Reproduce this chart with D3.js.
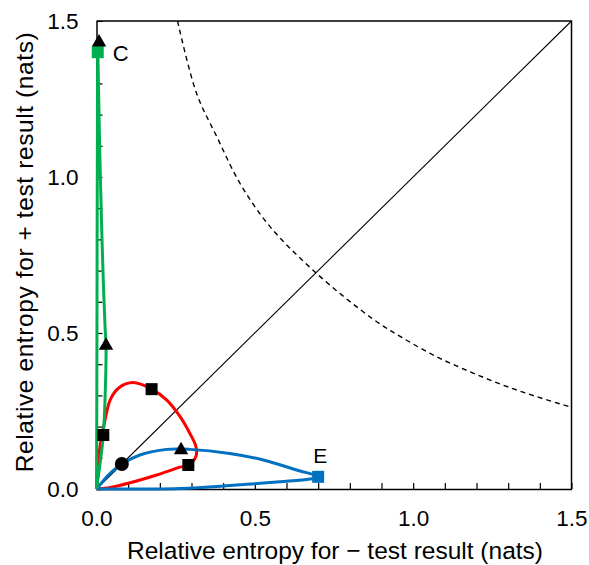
<!DOCTYPE html>
<html>
<head>
<meta charset="utf-8">
<script src="https://cdn.jsdelivr.net/npm/d3@7/dist/d3.min.js"></script>
<style>
  html, body { margin: 0; padding: 0; background: #fff; }
  svg { display: block; font-family: Arial, "Liberation Sans", sans-serif; }
</style>
</head>
<body>
<svg id="chart" width="589" height="565"></svg>
<script>
// Relative entropy (nats) of negative (x) vs positive (y) test results.

// Loop C (green): up the axis to C, back down through the outer branch
const loopCx = [0, 0.001, 0.002, 0.003, 0.004, 0.007, 0.011, 0.016, 0.022, 0.027, 0.030, 0.029, 0.0215, 0.011, 0];
const loopCy = [0, 0.30, 0.80, 1.20, 1.40, 1.25, 1.05, 0.85, 0.65, 0.52, 0.46, 0.36, 0.173, 0.08, 0];

// Red loop
const loopRx = [0, 0.004, 0.011, 0.027, 0.043, 0.069, 0.116, 0.174, 0.222, 0.264, 0.295, 0.314, 0.314, 0.29, 0.264, 0.19, 0.106, 0.043, 0];
const loopRy = [0, 0.06, 0.136, 0.221, 0.285, 0.323, 0.341, 0.32, 0.285, 0.232, 0.178, 0.136, 0.104, 0.077, 0.07, 0.045, 0.02, 0.005, 0];

// Loop E (blue): out along the bottom to E, back through the upper branch
const loopEx = [0, 0.264, 0.421, 0.579, 0.674, 0.70, 0.632, 0.527, 0.421, 0.295, 0.222, 0.137, 0.08, 0.043, 0];
const loopEy = [0, 0.002, 0.011, 0.023, 0.032, 0.039, 0.061, 0.093, 0.114, 0.127, 0.127, 0.109, 0.08, 0.05, 0];

// Dashed reference curve
const dashX = [0.256, 0.316, 0.380, 0.453, 0.548, 0.695, 0.874, 0.969, 1.074, 1.179, 1.284, 1.39, 1.5];
const dashY = [1.5, 1.268, 1.129, 0.980, 0.841, 0.691, 0.544, 0.483, 0.424, 0.376, 0.333, 0.296, 0.262];

// Markers
const squareX = [0.004, 0.0215, 0.174, 0.29, 0.70];
const squareY = [1.40, 0.173, 0.32, 0.077, 0.039];
const squareFill = ["#00b050", "#000", "#000", "#000", "#0070c0"];
const triX = [0.008, 0.030, 0.267];
const triY = [1.432, 0.46, 0.125];
const circX = [0.08];
const circY = [0.08];

const tickVals = d3.range(0, 15.01, 1).map(v => +(v / 10).toFixed(1));
const labelVals = [0, 0.5, 1.0, 1.5];

const svg = d3.select("#chart");
const x = d3.scaleLinear().domain([0, 1.5]).range([96.5, 571.5]);
const y = d3.scaleLinear().domain([0, 1.5]).range([489, 21]);

const zip = (xs, ys) => xs.map((v, i) => [v, ys[i]]);
const line = d3.line().x(d => x(d[0])).y(d => y(d[1])).curve(d3.curveCatmullRom.alpha(0.5));

svg.append("clipPath").attr("id", "plotclip")
  .append("rect").attr("x", x(0)).attr("y", y(1.5)).attr("width", x(1.5) - x(0)).attr("height", y(0) - y(1.5));

// frame (top and right)
svg.append("path")
  .attr("d", `M${x(0)},${y(1.5)}H${x(1.5)}V${y(0)}`)
  .attr("fill", "none").attr("stroke", "#000").attr("stroke-width", 1.5);

// diagonal
svg.append("line")
  .attr("x1", x(0)).attr("y1", y(0)).attr("x2", x(1.5)).attr("y2", y(1.5))
  .attr("stroke", "#000").attr("stroke-width", 1.1);

// dashed curve
svg.append("path")
  .datum(zip(dashX, dashY))
  .attr("d", line)
  .attr("clip-path", "url(#plotclip)")
  .attr("fill", "none").attr("stroke", "#000").attr("stroke-width", 1.4)
  .attr("stroke-dasharray", "5,4");

// axes
const fmt = d => labelVals.some(v => Math.abs(v - d) < 1e-9) ? d3.format(".1f")(d) : "";
const xAxis = d3.axisBottom(x).tickValues(tickVals).tickSize(-6).tickPadding(21).tickFormat(fmt).tickSizeOuter(0);
const yAxis = d3.axisLeft(y).tickValues(tickVals).tickSize(-6).tickPadding(18).tickFormat(fmt).tickSizeOuter(0);

const gx = svg.append("g").attr("transform", `translate(0,${y(0)})`).call(xAxis);
const gy = svg.append("g").attr("transform", `translate(${x(0)},0)`).call(yAxis);
[gx, gy].forEach(g => {
  g.select(".domain").attr("stroke", "#000").attr("stroke-width", 1.5);
  g.selectAll(".tick line").attr("stroke", "#000").attr("stroke-width", 1.2);
  g.selectAll(".tick text").attr("fill", "#000").style("font-size", "22.5px").style("font-family", "Arial, 'Liberation Sans', sans-serif");
});

// loops
const loops = [
  { pts: zip(loopRx, loopRy), color: "#ff0000" },
  { pts: zip(loopEx, loopEy), color: "#0070c0" },
  { pts: zip(loopCx, loopCy), color: "#00b050" }
];
svg.append("g").selectAll("path").data(loops).join("path")
  .attr("d", d => line(d.pts))
  .attr("fill", "none").attr("stroke", d => d.color).attr("stroke-width", 3)
  .attr("stroke-linejoin", "round");

// markers
const sq = 12;
svg.append("g").selectAll("rect").data(zip(squareX, squareY)).join("rect")
  .attr("x", d => x(d[0]) - sq / 2).attr("y", d => y(d[1]) - sq / 2)
  .attr("width", sq).attr("height", sq)
  .attr("fill", (d, i) => squareFill[i]);

const tri = d3.symbol().type(d3.symbolTriangle).size(90);
svg.append("g").selectAll("path").data(zip(triX, triY)).join("path")
  .attr("transform", d => `translate(${x(d[0])},${y(d[1])})`)
  .attr("d", tri).attr("fill", "#000");

svg.append("g").selectAll("circle").data(zip(circX, circY)).join("circle")
  .attr("cx", d => x(d[0])).attr("cy", d => y(d[1])).attr("r", 7).attr("fill", "#000");

// point labels
svg.append("text").attr("x", x(0.004) + 15).attr("y", y(1.40) + 9)
  .style("font-size", "22px").text("C");
svg.append("text").attr("x", x(0.70) - 5).attr("y", y(0.039) - 14)
  .style("font-size", "21px").text("E");

// axis titles
svg.append("text").attr("x", 335).attr("y", 559).attr("text-anchor", "middle")
  .style("font-size", "24.5px").text("Relative entropy for \u2212 test result (nats)");
svg.append("text").attr("transform", "translate(33,252) rotate(-90)").attr("text-anchor", "middle")
  .style("font-size", "24.5px").style("letter-spacing", "0.6px")
  .text("Relative entropy for + test result (nats)");
</script>
</body>
</html>
